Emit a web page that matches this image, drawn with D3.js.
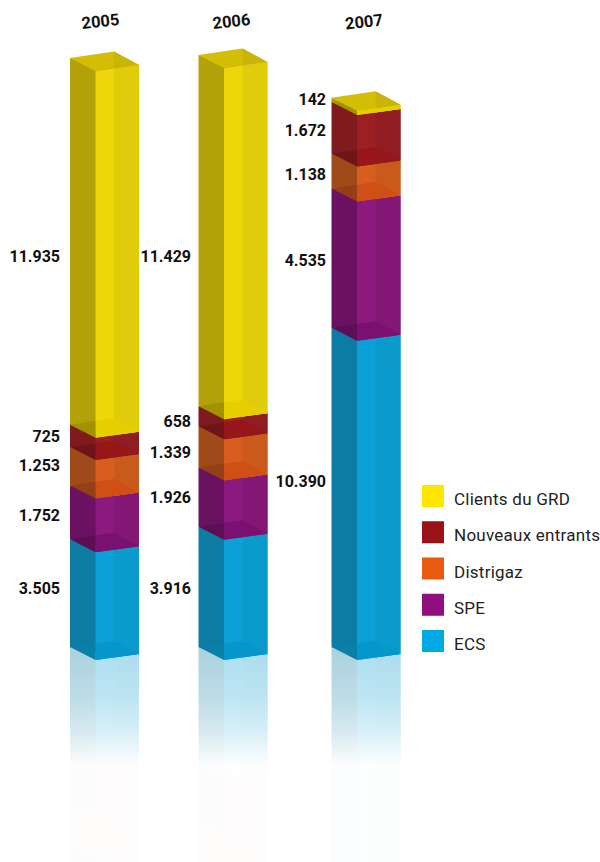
<!DOCTYPE html>
<html><head><meta charset="utf-8">
<script src="https://cdn.jsdelivr.net/npm/d3@7/dist/d3.min.js"></script>
<style>html,body{margin:0;padding:0;background:#fff}svg{display:block}</style>
</head><body><div id="chart"></div>
<script>
// ---- data ----
const years = ["2005", "2006", "2007"];
const series = ["ECS", "SPE", "Distrigaz", "Nouveaux entrants", "Clients du GRD"];
const ecs = [3505, 3916, 10390];
const spe = [1752, 1926, 4535];
const distrigaz = [1253, 1339, 1138];
const nouveaux = [725, 658, 1672];
const clients = [11935, 11429, 142];
const valueLabels = [
  ["3.505", "3.916", "10.390"],
  ["1.752", "1.926", "4.535"],
  ["1.253", "1.339", "1.138"],
  ["725", "658", "1.672"],
  ["11.935", "11.429", "142"]
];
const legendOrder = ["Clients du GRD", "Nouveaux entrants", "Distrigaz", "SPE", "ECS"];

// ---- styles ----
const base = ["#00abe3", "#8e0f7d", "#e85a10", "#9a1218", "#ffe600"];
const leftC = ["#0d7ca4", "#6b1161", "#a04a1a", "#7f1a1e", "#b3a109"];
const frontC = ["#0ba1d6", "#8c1a7e", "#d85e20", "#9c1f24", "#edd60a"];
const rightC = ["#0b9acc", "#841675", "#c95a1c", "#8f1d22", "#e0cc0b"];
const floorLeftC = ["#0a7fa8", "#5e0e55", "#943f16", "#6f1519", "#a39100"];
const floorC = ["#0597cc", "#7a1070", "#cf4f14", "#96161a", "#e6cf00"];

// ---- layout ----
const W = 600, H = 862;
const svg = d3.select("#chart").append("svg").attr("width", W).attr("height", H);
const y = d3.scaleLinear().domain([0, 19268]).range([660, 68]);
const barX = d3.scaleOrdinal(years, [70, 198.5, 331.5]);
const barLabelX = d3.scaleOrdinal(years, [60, 191, 326]);
// corner geometry of the oblique box
const L = {x: 0, dy: -13}, F = {x: 25.5, dy: 0}, S = {x: 44, dy: -2.6}, R = {x: 69, dy: -6}, B = {x: 44, dy: -19.5};
const P = {x: 25.5, dy: -16.8}; // where the front-corner line meets the back edge of the floor
const line = d3.line();
const allSeries = [ecs, spe, distrigaz, nouveaux, clients];

function stacks(i) {
  let acc = 0;
  return allSeries.map((s, k) => {
    const seg = {k, v0: acc, v1: acc + s[i]};
    acc += s[i];
    return seg;
  });
}
function quad(x0, sign, corners) {
  return line(corners.map(([c, v]) => [x0 + c.x, y(sign * v) + c.dy])) + "Z";
}
function drawBar(g, i, sign, withTop) {
  const x0 = barX(years[i]);
  const segs = stacks(i);
  segs.forEach(s => {
    const a = s.v0, b = s.v1;
    // painted back-to-front with overlap, so no hairline shows between faces
    g.append("path").attr("d", quad(x0, sign, [[L, a], [S, a], [S, b], [L, b]])).attr("fill", leftC[s.k]);
    g.append("path").attr("d", quad(x0, sign, [[F, a], [R, a], [R, b], [F, b]])).attr("fill", frontC[s.k]);
    g.append("path").attr("d", quad(x0, sign, [[S, a], [R, a], [R, b], [S, b]])).attr("fill", rightC[s.k]);
    if (sign > 0) {
      g.append("path").attr("d", quad(x0, sign, [[P, a], [B, a], [R, a], [F, a]])).attr("fill", floorC[s.k]);
      g.append("path").attr("d", quad(x0, sign, [[L, a], [P, a], [F, a]])).attr("fill", floorLeftC[s.k]);
    }
  });
  if (withTop) {
    const t = segs[segs.length - 1].v1;
    g.append("path").attr("d", quad(x0, sign, [[L, t], [B, t], [R, t], [F, t]])).attr("fill", "#d3be05");
    g.append("path").attr("d", quad(x0, sign, [[B, t], [R, t], [S, t]])).attr("fill", "#c8b508");
  }
}

// reflection
const defs = svg.append("defs");
const grad = defs.append("linearGradient").attr("id", "fade")
  .attr("gradientUnits", "userSpaceOnUse").attr("x1", 0).attr("x2", 0).attr("y1", 640).attr("y2", 862);
[[640, .36], [697, .27], [730, .17], [750, .08], [762, .025], [767, .012], [862, .012]].forEach(([p, o]) =>
  grad.append("stop").attr("offset", (p - 640) / 222).attr("stop-color", "#fff").attr("stop-opacity", o));
defs.append("mask").attr("id", "fadeMask").attr("maskUnits", "userSpaceOnUse")
  .attr("x", 0).attr("y", 0).attr("width", W).attr("height", H)
  .append("rect").attr("width", W).attr("height", H).attr("fill", "url(#fade)");
const mirror = svg.append("g").attr("mask", "url(#fadeMask)");
years.forEach((yr, i) => drawBar(mirror, i, -1, false));

// bars
const bars = svg.append("g");
years.forEach((yr, i) => drawBar(bars, i, 1, true));

// value labels: nudges from the left-edge middle of each segment
const labelNudge = [
  [-4.5, 2, -6],
  [3, 0.5, 2],
  [-0.5, 6, 3.5],
  [1, 5, 2.5],
  [15, 26, -0.5]
];
const labelFont = "Roboto, sans-serif";
years.forEach((yr, i) => {
  stacks(i).forEach(s => {
    const mid = (y(s.v0) + y(s.v1)) / 2 + L.dy;
    svg.append("text").attr("x", barLabelX(yr)).attr("y", mid + labelNudge[s.k][i])
      .attr("text-anchor", "end").attr("dominant-baseline", "central")
      .attr("font-family", labelFont).attr("font-weight", 700).attr("font-size", 16)
      .attr("fill", "#111").text(valueLabels[s.k][i]);
  });
});

// year labels
const yearX = d3.scaleOrdinal(years, [100.5, 231.5, 364]);
const yearY = d3.scaleOrdinal(years, [21.5, 21.5, 22]);
years.forEach(yr => {
  svg.append("text").attr("transform", `translate(${yearX(yr)},${yearY(yr)}) rotate(-6.5)`)
    .attr("text-anchor", "middle").attr("dominant-baseline", "central")
    .attr("font-family", labelFont).attr("font-weight", 700).attr("font-size", 16.5)
    .attr("fill", "#111").text(yr);
});

// legend
const legendY = d3.scalePoint().domain(legendOrder).range([485, 630]);
legendOrder.forEach(name => {
  const k = series.indexOf(name);
  const g = svg.append("g").attr("transform", `translate(422,${legendY(name)})`);
  g.append("rect").attr("width", 22).attr("height", 22).attr("fill", base[k]);
  g.append("text").attr("x", 32).attr("y", 14).attr("dominant-baseline", "central")
    .attr("font-family", labelFont).attr("font-size", 17).attr("letter-spacing", 0.25)
    .attr("fill", "#222").text(name);
});
</script></body></html>
